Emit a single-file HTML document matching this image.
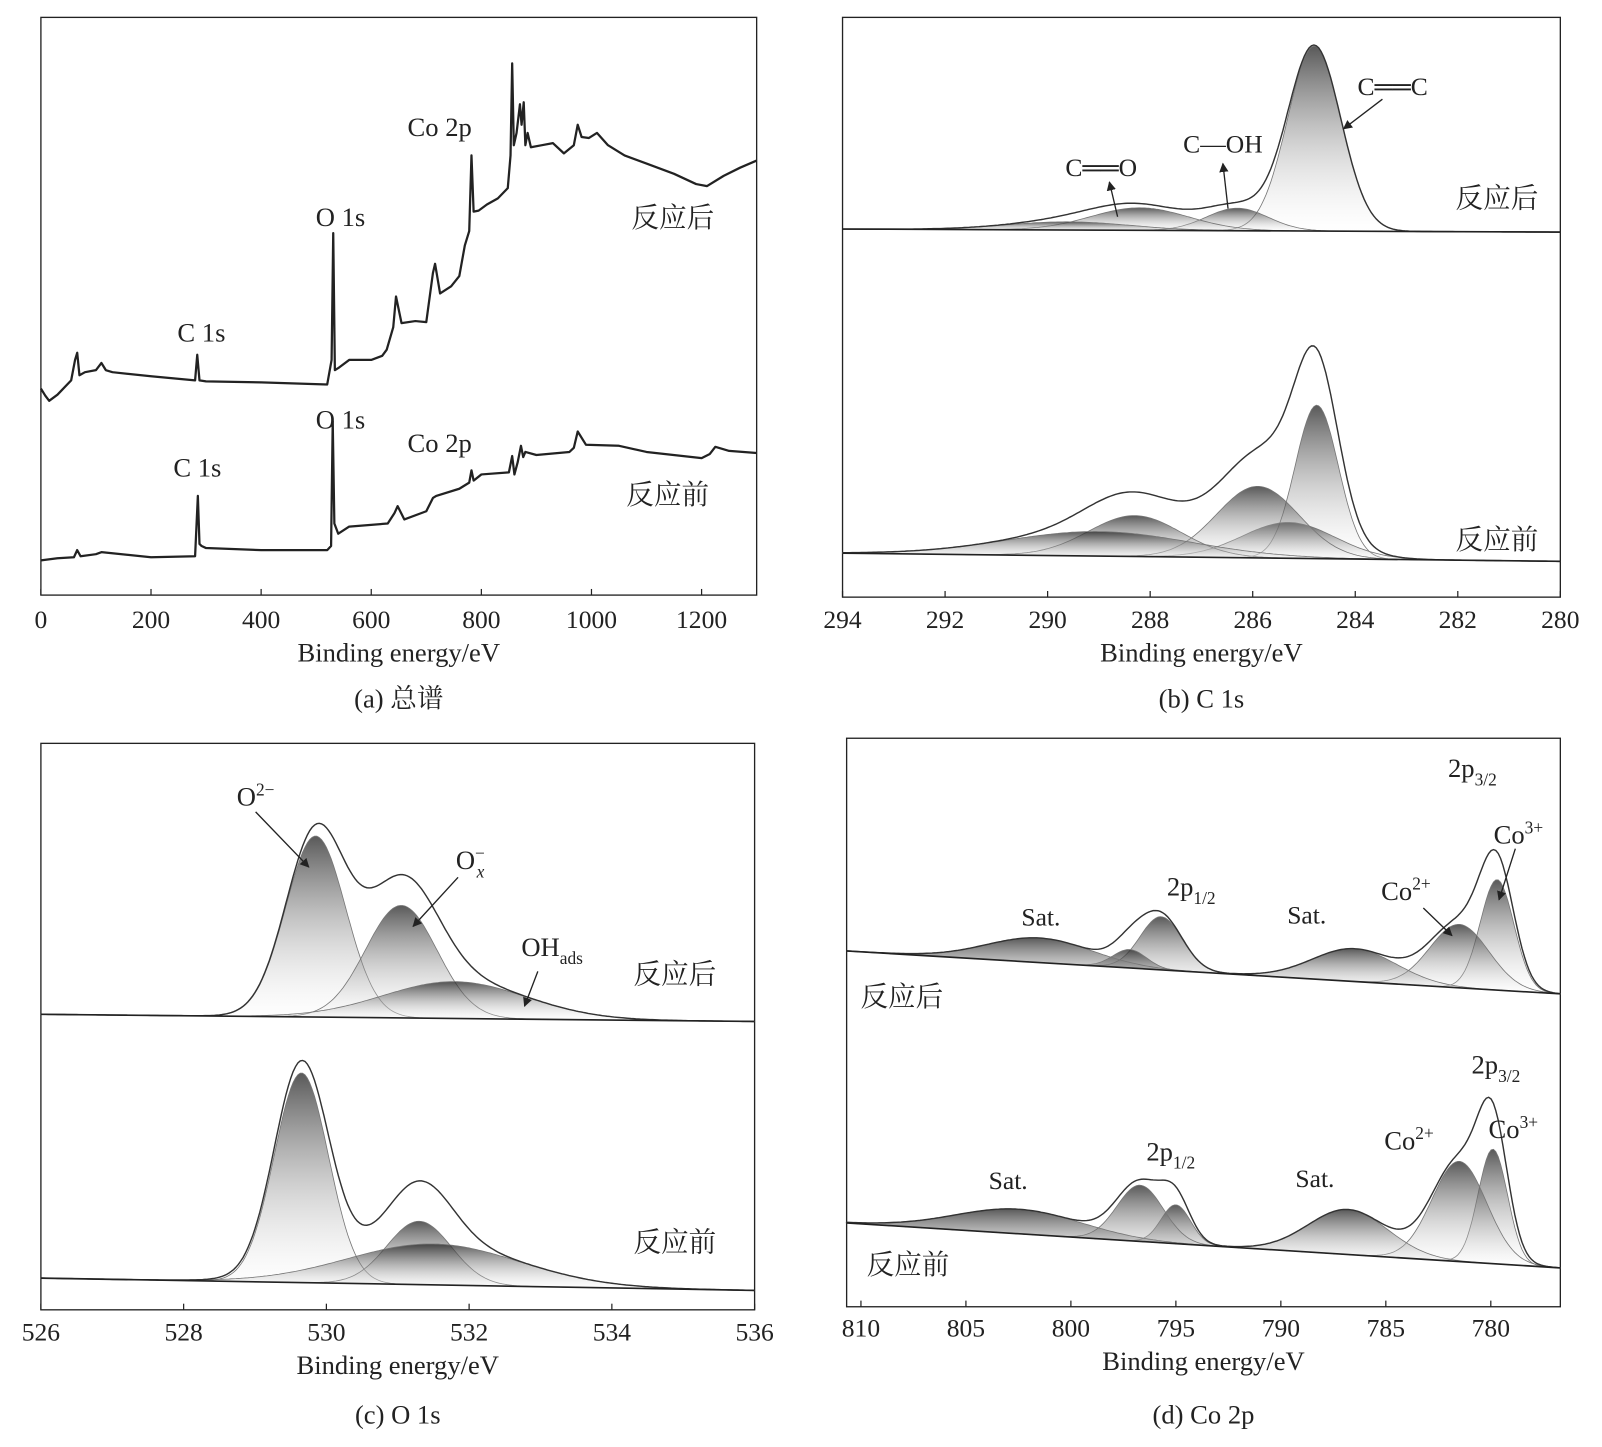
<!DOCTYPE html>
<html><head><meta charset="utf-8"><style>
html,body{margin:0;padding:0;background:#fff}
svg text{font-family:"Liberation Serif","Noto Serif CJK SC","Noto Sans CJK SC",serif;fill:#222}
</style></head><body>
<svg id="fig" width="1602" height="1442" viewBox="0 0 1602 1442" xmlns="http://www.w3.org/2000/svg">
<defs>
<linearGradient id="gr" x1="0" y1="0" x2="0" y2="1"><stop offset="0" stop-color="#222" stop-opacity="0.75"/><stop offset="1" stop-color="#fff" stop-opacity="0.15"/></linearGradient>
<marker id="ar" viewBox="0 0 10 10" refX="9" refY="5" markerWidth="7" markerHeight="7" orient="auto"><path d="M0,0 L10,5 L0,10 z" fill="#222"/></marker>
</defs>
<g id="root" transform="scale(1.0225)"></g>
</svg>
<script>
// ---------- DATA ----------
const surveyAfterE = [0,8,15,30,55,62,66,70,80,100,110,118,130,200,280,284,288,300,400,520,528,531,534,540,560,600,620,628,640,645,655,680,700,712,716,725,745,760,770,778,782,786,795,810,830,848,853,856,859,864,870,873,877,880,884,890,910,930,950,968,975,982,995,1010,1030,1060,1100,1150,1190,1210,1240,1270,1300];
const surveyAfterI = [202,195,190,196,210,230,237,215,218,220,227,220,218,214,210,235,210,209,208,206,230,354,220,222,230,230,234,240,262,292,266,268,267,315,324,295,302,312,342,356,430,375,376,382,388,398,430,520,440,452,480,460,482,440,452,438,440,442,432,440,460,448,447,452,440,430,422,412,402,400,410,418,425];
const surveyBeforeE = [0,30,60,66,72,100,110,200,280,285,288,292,300,400,520,527,530,533,540,560,630,642,648,660,700,712,718,760,778,782,786,800,850,856,860,866,872,876,880,900,960,968,975,990,1050,1100,1200,1215,1225,1250,1300];
const surveyBeforeI = [34,36,37,44,38,40,42,37,38,97,50,48,46,44,44,48,170,70,60,67,70,80,87,74,82,95,97,104,110,122,112,118,120,136,118,130,146,135,140,137,140,144,160,147,146,140,134,138,145,141,139];

const c1sAfterCenters = [284.8, 286.3, 288.2, 289.6];
const c1sAfterHeights = [181, 22, 22, 8];
const c1sAfterSigmas = [0.52, 0.6, 0.95, 1.2];
const c1sBeforeCenters = [284.75, 285.3, 285.9, 288.3, 289.0];
const c1sBeforeHeights = [150, 35, 70, 40, 24];
const c1sBeforeSigmas = [0.42, 0.9, 0.8, 0.9, 1.8];

const o1sAfterCenters = [529.85, 531.05, 531.8];
const o1sAfterHeights = [177, 110, 36];
const o1sAfterSigmas = [0.42, 0.5, 1.0];
const o1sBeforeCenters = [529.65, 531.3, 531.5];
const o1sBeforeHeights = [205, 62, 40];
const o1sBeforeSigmas = [0.38, 0.45, 1.2];

const coAfterCenters = [779.7, 781.5, 786.5, 795.7, 797.2, 801.5];
const coAfterHeights = [108, 62, 32, 52, 18, 24];
const coAfterSigmas = [0.8, 1.4, 2.0, 1.0, 0.8, 2.5];
const coBeforeCenters = [779.9, 781.5, 786.8, 795.0, 796.7, 802.5];
const coBeforeHeights = [112, 98, 44, 38, 55, 24];
const coBeforeSigmas = [0.7, 1.3, 1.9, 0.7, 1.1, 3.0];

const ticksA = [0,200,400,600,800,1000,1200];
const ticksB = [294,292,290,288,286,284,282,280];
const ticksC = [526,528,530,532,534,536];
const ticksD = [810,805,800,795,790,785,780];

// ---------- DRAW ----------
const NS='http://www.w3.org/2000/svg';
const root=document.getElementById('root');
function el(tag,attrs,parent){const e=document.createElementNS(NS,tag);for(const k in attrs)e.setAttribute(k,attrs[k]);(parent||root).appendChild(e);return e;}
function txt(x,y,s,size,anchor,parent){const t=el('text',{x:x,y:y,'font-size':size,'text-anchor':anchor||'middle'},parent);t.textContent=s;return t;}
function linScale(d0,d1,r0,r1){return v=>r0+(v-d0)*(r1-r0)/(d1-d0);}

function axesBox(name,x0,y0,x1,y1,xs,ticks,ty,cap,capY){
  const g=el('g',{});
  
  
  const r=el('rect',{x:x0,y:y0,width:x1-x0,height:y1-y0,fill:'none',stroke:'#222','stroke-width':1.3},g);
  
  
  ticks.forEach(t=>{
    const x=xs(t);
    el('line',{x1:x,y1:y1,x2:x,y2:y1-6,stroke:'#222','stroke-width':1.2},g);
    const l=txt(x,ty,String(t),25,'middle',g);
    
    
  });
  const at=txt((x0+x1)/2,ty+33,'Binding energy/eV',26,'middle',g);
  
  
  const c=txt((x0+x1)/2,capY,cap,26,'middle',g);
  
  
  return g;
}
function label(x,y,s,size,name){const t=txt(x,y,s,size||26,'middle');return t;}
function arrow(x1,y1,x2,y2){const a=el('line',{x1:x1,y1:y1,x2:x2,y2:y2,stroke:'#222','stroke-width':1.3,'marker-end':'url(#ar)'});}

function fitPanel(name,xs,eMin,eMax,baseL,baseR,centers,heights,sigmas){
  const g=el('g',{});
  
  
  const N=300;
  const base=e=>baseL+(e-eMax)*(baseR-baseL)/(eMin-eMax);
  const gauss=(i,e)=>heights[i]*Math.exp(-((e-centers[i])**2)/(2*sigmas[i]**2));
  const es=[];for(let k=0;k<=N;k++)es.push(eMax+(eMin-eMax)*k/N);
  centers.forEach((c,i)=>{
    let d='';es.forEach((e,k)=>{d+=(k?'L':'M')+xs(e).toFixed(1)+','+(base(e)-gauss(i,e)).toFixed(1);});
    const dr=d+'L'+xs(eMin).toFixed(1)+','+base(eMin).toFixed(1)+'L'+xs(eMax).toFixed(1)+','+base(eMax).toFixed(1)+'Z';
    const p=el('path',{d:dr,fill:'url(#gr)',stroke:'#777','stroke-width':0.8},g);
    
    
  });
  let d='';es.forEach((e,k)=>{let s=0;centers.forEach((c,i)=>s+=gauss(i,e));d+=(k?'L':'M')+xs(e).toFixed(1)+','+(base(e)-s).toFixed(1);});
  const env=el('path',{d:d,fill:'none',stroke:'#333','stroke-width':1.4},g);
  
  
  const bl=el('line',{x1:xs(eMax),y1:baseL,x2:xs(eMin),y2:baseR,stroke:'#222','stroke-width':1.6},g);
  
  
}

// (a)
const xa=linScale(0,1300,40,740);
axesBox('panel-a-survey',40,17,740,582,xa,ticksA,614,'(a) 总谱',692);
function survey(E,I,name){
  let d='';E.forEach((e,k)=>{d+=(k?'L':'M')+xa(e).toFixed(1)+','+(582-I[k]).toFixed(1);});
  const p=el('path',{d:d,fill:'none',stroke:'#222','stroke-width':2.2,'stroke-linejoin':'round'});
  
  
}
survey(surveyAfterE,surveyAfterI,'survey-after-curve');
survey(surveyBeforeE,surveyBeforeI,'survey-before-curve');
label(197,334,'C 1s',26,'c1s-label-after');label(193,466,'C 1s',26,'c1s-label-before');
label(333,221,'O 1s',26,'o1s-label-after');label(333,419,'O 1s',26,'o1s-label-before');
label(430,133,'Co 2p',26,'co2p-label-after');label(430,442,'Co 2p',26,'co2p-label-before');
label(658,222,'反应后',27,'after-label');label(653,493,'反应前',27,'before-label');

// (b)
const xb=linScale(294,280,824,1526);
axesBox('panel-b-c1s',824,17,1526,584,xb,ticksB,614,'(b) C 1s',692);
fitPanel('c1s-after-fit',xb,280,294,224,227,c1sAfterCenters,c1sAfterHeights,c1sAfterSigmas);
fitPanel('c1s-before-fit',xb,280,294,541,549,c1sBeforeCenters,c1sBeforeHeights,c1sBeforeSigmas);
label(1362,93,'C══C',25,'cc-label');arrow(1352,97,1314,126);
label(1196,149,'C—OH',25,'coh-label');arrow(1201,204,1196,160);
label(1077,172,'C══O',25,'co-label');arrow(1093,212,1085,178);
label(1464,203,'反应后',27,'after-label');label(1464,537,'反应前',27,'before-label');

// (c)
const xc=linScale(526,536,40,738);
axesBox('panel-c-o1s',40,727,738,1281,xc,ticksC,1311,'(c) O 1s',1392);
fitPanel('o1s-after-fit',xc,526,536,999,992,o1sAfterCenters,o1sAfterHeights,o1sAfterSigmas);
fitPanel('o1s-before-fit',xc,526,536,1262,1250,o1sBeforeCenters,o1sBeforeHeights,o1sBeforeSigmas);
(function(){const t=label(250,788,'O',26,'o2-label');const s=el('tspan',{dy:-10,'font-size':17});s.textContent='2−';t.appendChild(s);})();
arrow(250,794,302,848);
(function(){const t=label(460,850,'O',26,'ox-label');const s=el('tspan',{dy:-10,'font-size':17});s.textContent='−';t.appendChild(s);const s2=el('tspan',{dx:-8,dy:18,'font-size':17,'font-style':'italic'});s2.textContent='x';t.appendChild(s2);})();
arrow(448,858,404,906);
(function(){const t=label(540,935,'OH',26,'ohads-label');const s=el('tspan',{dy:8,'font-size':17});s.textContent='ads';t.appendChild(s);})();
arrow(526,950,513,984);
label(660,962,'反应后',27,'after-label');label(660,1224,'反应前',27,'before-label');

// (d)
const xd=linScale(810,780,842,1458);
axesBox('panel-d-co2p',828,722,1526,1278,xd,ticksD,1307,'(d) Co 2p',1392);
fitPanel('co2p-after-fit',xd,776.7,810.7,930,972,coAfterCenters,coAfterHeights,coAfterSigmas);
fitPanel('co2p-before-fit',xd,776.7,810.7,1196,1240,coBeforeCenters,coBeforeHeights,coBeforeSigmas);
function sub(x,y,a,b,name,up){const t=label(x,y,a,26,name);const s=el('tspan',{dy:up?-10:8,'font-size':17});s.textContent=b;t.appendChild(s);}
sub(1440,760,'2p','3/2','p32-after-label');sub(1165,876,'2p','1/2','p12-after-label');
sub(1375,880,'Co','2+','co2-after-label',true);sub(1485,825,'Co','3+','co3-after-label',true);
label(1018,905,'Sat.',25,'sat-label');label(1278,903,'Sat.',25,'sat-label');
arrow(1392,888,1420,915);arrow(1482,830,1466,880);
label(882,984,'反应后',27,'after-label');
sub(1463,1050,'2p','3/2','p32-before-label');sub(1145,1135,'2p','1/2','p12-before-label');
sub(1378,1124,'Co','2+','co2-before-label',true);sub(1480,1113,'Co','3+','co3-before-label',true);
label(986,1163,'Sat.',25,'sat-label');label(1286,1161,'Sat.',25,'sat-label');
label(888,1246,'反应前',27,'before-label');
</script>
</body></html>
